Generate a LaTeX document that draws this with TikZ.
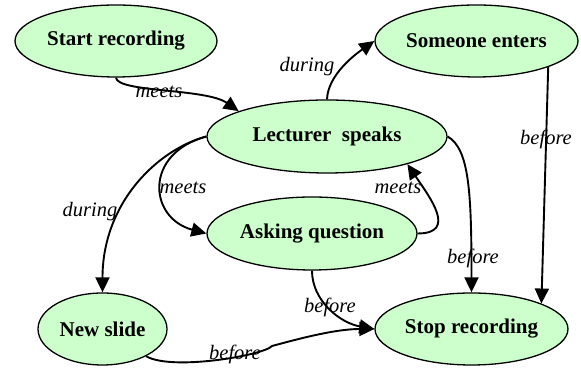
\documentclass[tikz,border=0pt]{standalone}
\usepackage{fontspec}
\setmainfont{Liberation Serif}
\usetikzlibrary{shapes.geometric,arrows.meta}
\definecolor{evgreen}{RGB}{204,255,204}
\begin{document}
\begin{tikzpicture}[x=1pt,y=1pt,
  event/.style={ellipse, draw=black, fill=evgreen, line width=1.3pt, inner sep=0pt,
    font=\bfseries\fontsize{21}{24}\selectfont},
  rel/.style={line width=1.9pt, -{Triangle[length=15pt,width=14pt]}},
  lbl/.style={inner sep=0pt, font=\itshape\fontsize{20.5}{24}\selectfont}]
\useasboundingbox (0,0) rectangle (581,371);
% events
\node [event, minimum width=202, minimum height=72] (start) at (116,330) {Start recording};
\node [event, minimum width=203, minimum height=72] (enter) at (476.5,330) {Someone enters};
\node [event, minimum width=240, minimum height=73] (speak) at (327,234.5) {Lecturer~~speaks};
\node [event, minimum width=210, minimum height=73] (ask) at (312,137.5) {Asking question};
\node [event, minimum width=129, minimum height=72] (slide) at (102.5,42) {New slide};
\node [event, minimum width=193, minimum height=72] (stop) at (471.5,42) {Stop recording};
\coordinate (kink) at (272,25);
% relations
\draw [rel] (start.south) to[out=-85, in=145, out distance=15, in distance=40] (speak.164);
\draw [rel] (speak.north) to[out=88, in=215, out distance=25, in distance=22] (enter.west);
\draw [rel] (speak.west) to[out=195, in=90, out distance=50, in distance=90] (slide.north);
\draw [rel] (speak.west) to[out=195, in=165, out distance=65, in distance=60] (ask.west);
\draw [rel] (ask.east) to[out=0, in=-56, out distance=40, in distance=40] (speak.-19);
\draw [rel] (speak.east) to[out=-30, in=90, out distance=25, in distance=100] (stop.north);
\draw [rel] (enter.-20) -- (stop.20);
\draw [rel] (ask.south) to[out=-90, in=170, out distance=30, in distance=35] (stop.west);
\draw [rel] (slide.-32) to[out=-30, in=230, out distance=30, in distance=12] (kink)
  to[out=15, in=180, out distance=25, in distance=40] (stop.west);
% labels
\node [lbl] (m1) at (159,279) {meets};
\node [lbl] (d1) at (307,304) {during};
\node [lbl] (d2) at (90,159) {during};
\node [lbl] (m2) at (183,183) {meets};
\node [lbl] (m3) at (398,183) {meets};
\node [lbl] (b1) at (546,232) {before};
\node [lbl] (b2) at (473,113) {before};
\node [lbl] (b3) at (330,64) {before};
\node [lbl] (b4) at (235,17) {before};
\end{tikzpicture}
\end{document}
